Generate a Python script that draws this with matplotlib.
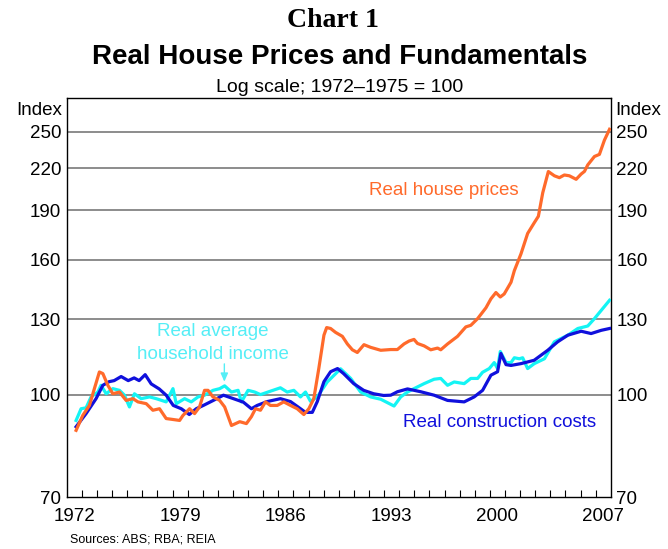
import numpy as np
import matplotlib
matplotlib.use("Agg")
import matplotlib.pyplot as plt
from matplotlib.ticker import FixedLocator, NullLocator

plt.rcParams['font.family'] = ['Liberation Sans', 'DejaVu Sans']

# Real construction costs (index, 1972-1975 = 100)
cost_year = [1972.62, 1973.28, 1973.94, 1974.39, 1974.8, 1975.14, 1975.6, 1976.07, 1976.46,
             1976.79, 1977.19, 1977.59, 1978.12, 1978.58, 1979.05, 1979.58, 1980.11, 1980.57,
             1981.04, 1981.7, 1982.37, 1983.03, 1983.69, 1984.22, 1984.6, 1985.26, 1986.14,
             1986.81, 1987.47, 1987.8, 1988.25, 1988.58, 1989.02, 1989.46, 1989.92, 1990.32,
             1990.99, 1991.65, 1992.31, 1992.97, 1993.44, 1993.88, 1994.55, 1995.43, 1996.31,
             1997.2, 1998.3, 1998.96, 1999.52, 2000.07, 2000.51, 2000.73, 2001.07, 2001.4,
             2002.06, 2002.93, 2003.83, 2004.49, 2005.16, 2006.04, 2006.7, 2007.37, 2007.92]
cost_idx = [89.4, 93.6, 98.6, 103.3, 104.6, 105.0, 106.5, 105.0, 106.0,
            105.0, 107.2, 103.8, 102.0, 99.8, 96.3, 95.2, 93.3, 95.2,
            96.3, 98.0, 99.8, 98.6, 97.4, 95.2, 96.3, 97.6, 98.6,
            97.6, 95.2, 94.0, 94.0, 97.6, 104.6, 108.3, 109.5, 107.6,
            103.9, 101.5, 100.3, 99.7, 99.8, 101.0, 102.0, 101.0, 99.8,
            98.0, 97.5, 99.2, 101.5, 107.0, 108.3, 115.4, 111.0, 110.7,
            111.4, 112.7, 116.7, 120.2, 123.0, 124.7, 123.7, 125.1, 125.9]

# Real average household income
income_year = [1972.62, 1972.95, 1973.28, 1973.61, 1974.06, 1974.27, 1974.61, 1975.05, 1975.49,
               1975.82, 1976.15, 1976.48, 1976.93, 1977.48, 1977.92, 1978.58, 1979.03, 1979.25,
               1979.8, 1980.24, 1980.69, 1981.12, 1981.68, 1982.12, 1982.45, 1982.9, 1983.34,
               1983.56, 1984.0, 1984.44, 1984.82, 1985.48, 1986.14, 1986.59, 1987.03, 1987.47,
               1987.8, 1988.13, 1988.58, 1989.24, 1990.12, 1990.79, 1991.45, 1992.11, 1992.78,
               1993.66, 1994.1, 1994.55, 1994.98, 1995.65, 1996.31, 1996.75, 1997.2, 1997.64,
               1998.3, 1998.74, 1999.19, 1999.52, 1999.96, 2000.29, 2000.51, 2000.69, 2001.07,
               2001.4, 2001.62, 2001.95, 2002.17, 2002.5, 2002.94, 2003.61, 2004.27, 2005.16,
               2005.82, 2006.48, 2006.92, 2007.92]
income_idx = [91.4, 95.2, 95.5, 99.2, 100.9, 103.3, 100.3, 102.1, 101.5,
              99.8, 95.8, 100.3, 98.6, 99.2, 98.6, 97.5, 102.1, 96.9,
              98.6, 97.5, 99.2, 99.8, 101.5, 102.1, 103.1, 100.9, 101.5,
              97.5, 101.5, 100.9, 100.0, 101.2, 102.4, 100.9, 101.5, 99.2,
              100.9, 97.7, 99.2, 104.5, 109.4, 105.8, 100.9, 99.2, 98.4,
              96.1, 99.2, 100.9, 102.1, 103.9, 105.5, 105.8, 103.3, 104.5,
              103.9, 105.8, 105.8, 108.1, 109.5, 111.8, 109.5, 116.2, 111.8,
              111.8, 113.7, 113.3, 113.7, 109.5, 111.4, 113.3, 120.2, 123.0,
              125.9, 127.0, 130.3, 138.9]

# Real house prices
house_year = [1972.62, 1973.06, 1973.5, 1973.83, 1974.16, 1974.39, 1974.72, 1975.05, 1975.49,
              1975.93, 1976.38, 1976.71, 1977.26, 1977.7, 1978.14, 1978.58, 1979.03, 1979.47,
              1979.69, 1980.13, 1980.46, 1980.79, 1981.12, 1981.35, 1981.68, 1982.12, 1982.45,
              1982.9, 1983.45, 1983.89, 1984.22, 1984.49, 1984.82, 1985.15, 1985.48, 1985.93,
              1986.36, 1986.81, 1987.25, 1987.69, 1988.02, 1988.35, 1988.68, 1989.02, 1989.2,
              1989.46, 1989.79, 1990.24, 1990.57, 1990.9, 1991.23, 1991.67, 1992.11, 1992.78,
              1993.44, 1993.88, 1994.32, 1994.65, 1994.98, 1995.21, 1995.65, 1996.09, 1996.54,
              1996.75, 1997.2, 1997.86, 1998.41, 1998.74, 1999.19, 1999.74, 2000.07, 2000.4,
              2000.69, 2000.95, 2001.4, 2001.62, 2002.06, 2002.5, 2002.94, 2003.21, 2003.5,
              2003.87, 2004.27, 2004.6, 2004.93, 2005.26, 2005.71, 2006.04, 2006.26, 2006.48,
              2006.92, 2007.25, 2007.58, 2007.92]
house_idx = [88.3, 93.0, 96.3, 102.1, 108.2, 107.6, 103.3, 100.3, 100.9,
             98.0, 98.6, 97.5, 96.9, 94.7, 95.2, 92.0, 91.7, 91.4,
             93.0, 95.2, 93.6, 95.8, 101.5, 101.5, 99.2, 98.0, 95.8,
             89.8, 91.0, 90.4, 92.6, 95.2, 94.7, 97.5, 96.3, 96.3,
             97.5, 96.3, 95.2, 93.3, 95.2, 98.6, 109.5, 123.0, 126.3,
             125.9, 124.2, 122.5, 119.3, 116.9, 115.8, 119.0, 117.9, 116.7,
             117.0, 117.0, 119.3, 120.5, 121.2, 119.5, 118.5, 116.9, 117.6,
             116.9, 119.3, 122.5, 126.6, 127.3, 130.3, 135.3, 139.6, 142.7,
             140.5, 142.0, 147.9, 154.0, 163.3, 175.3, 182.0, 186.1, 202.0,
             217.5, 214.3, 212.9, 214.9, 214.3, 211.7, 215.6, 217.6, 222.6,
             229.2, 230.9, 242.6, 252.0]

y_ticks = [70, 100, 130, 160, 190, 220, 250]
x_labels = [1972, 1979, 1986, 1993, 2000, 2007]

ORANGE = '#FF6A2B'
BLUE = '#1010DC'
CYAN = '#14F4F4'
CYAN_TXT = '#55EEF6'
FS = 13.5

fig = plt.figure(figsize=(6.68, 5.49), dpi=100)
ax = fig.add_axes([0.0999, 0.0947, 0.8144, 0.7268])

ax.set_yscale('log')
ax.set_ylim(70, 281)
ax.set_xlim(1972, 2008)

for v in y_ticks[1:]:
    ax.axhline(v, color='#8c8c8c', lw=1.4, zorder=1)

ax.plot(income_year, income_idx, color=CYAN, lw=2.3, zorder=3)
ax.plot(cost_year, cost_idx, color=BLUE, lw=2.3, zorder=4)
ax.plot(house_year, house_idx, color=ORANGE, lw=2.3, zorder=5)

ax.yaxis.set_major_locator(FixedLocator(y_ticks))
ax.yaxis.set_minor_locator(NullLocator())
ax.set_yticklabels([str(v) for v in y_ticks])
ax.tick_params(axis='y', which='both', length=0, labelsize=FS, pad=4,
               labelleft=True, labelright=True, right=False)

# year ticks inside, labels centred on mid-year
ax.xaxis.set_major_locator(FixedLocator(np.arange(1973, 2008)))
ax.xaxis.set_minor_locator(FixedLocator([y + 0.5 for y in x_labels]))
ax.tick_params(axis='x', which='major', direction='in', length=5, width=0.8,
               labelbottom=False, top=False)
ax.tick_params(axis='x', which='minor', length=0, labelsize=FS, pad=8)
ax.set_xticklabels([str(y) for y in x_labels], minor=True)

for s in ax.spines.values():
    s.set_linewidth(1.0)

ax.text(-0.008, 0.99, 'Index', transform=ax.transAxes, ha='right', va='top', fontsize=FS)
ax.text(1.008, 0.99, 'Index', transform=ax.transAxes, ha='left', va='top', fontsize=FS)

ax.text(1996.97, 203.6, 'Real house prices', color=ORANGE, fontsize=FS,
        ha='center', va='center')
ax.text(1981.65, 124.6, 'Real average', color=CYAN_TXT, fontsize=FS,
        ha='center', va='center')
ax.text(1981.65, 114.9, 'household income', color=CYAN_TXT, fontsize=FS,
        ha='center', va='center')
ax.annotate('', xy=(1982.43, 104.6), xytext=(1982.43, 111.3),
            arrowprops=dict(arrowstyle='-|>,head_length=0.5,head_width=0.22',
                            color=CYAN_TXT, lw=1.0, shrinkA=0, shrinkB=0))
ax.text(2000.63, 90.6, 'Real construction costs', color=BLUE, fontsize=FS,
        ha='center', va='center')

fig.text(0.4985, 0.962, 'Chart 1', family=['Liberation Serif'], weight='bold',
         fontsize=20, ha='center', va='center')
fig.text(0.509, 0.896, 'Real House Prices and Fundamentals', weight='bold',
         fontsize=20, ha='center', va='center')
fig.text(0.509, 0.8415, 'Log scale; 1972\u20131975 = 100', fontsize=14,
         ha='center', va='center')
fig.text(0.105, 0.0164, 'Sources: ABS; RBA; REIA', fontsize=9, ha='left', va='center')

fig.savefig('out.png', dpi=100)
